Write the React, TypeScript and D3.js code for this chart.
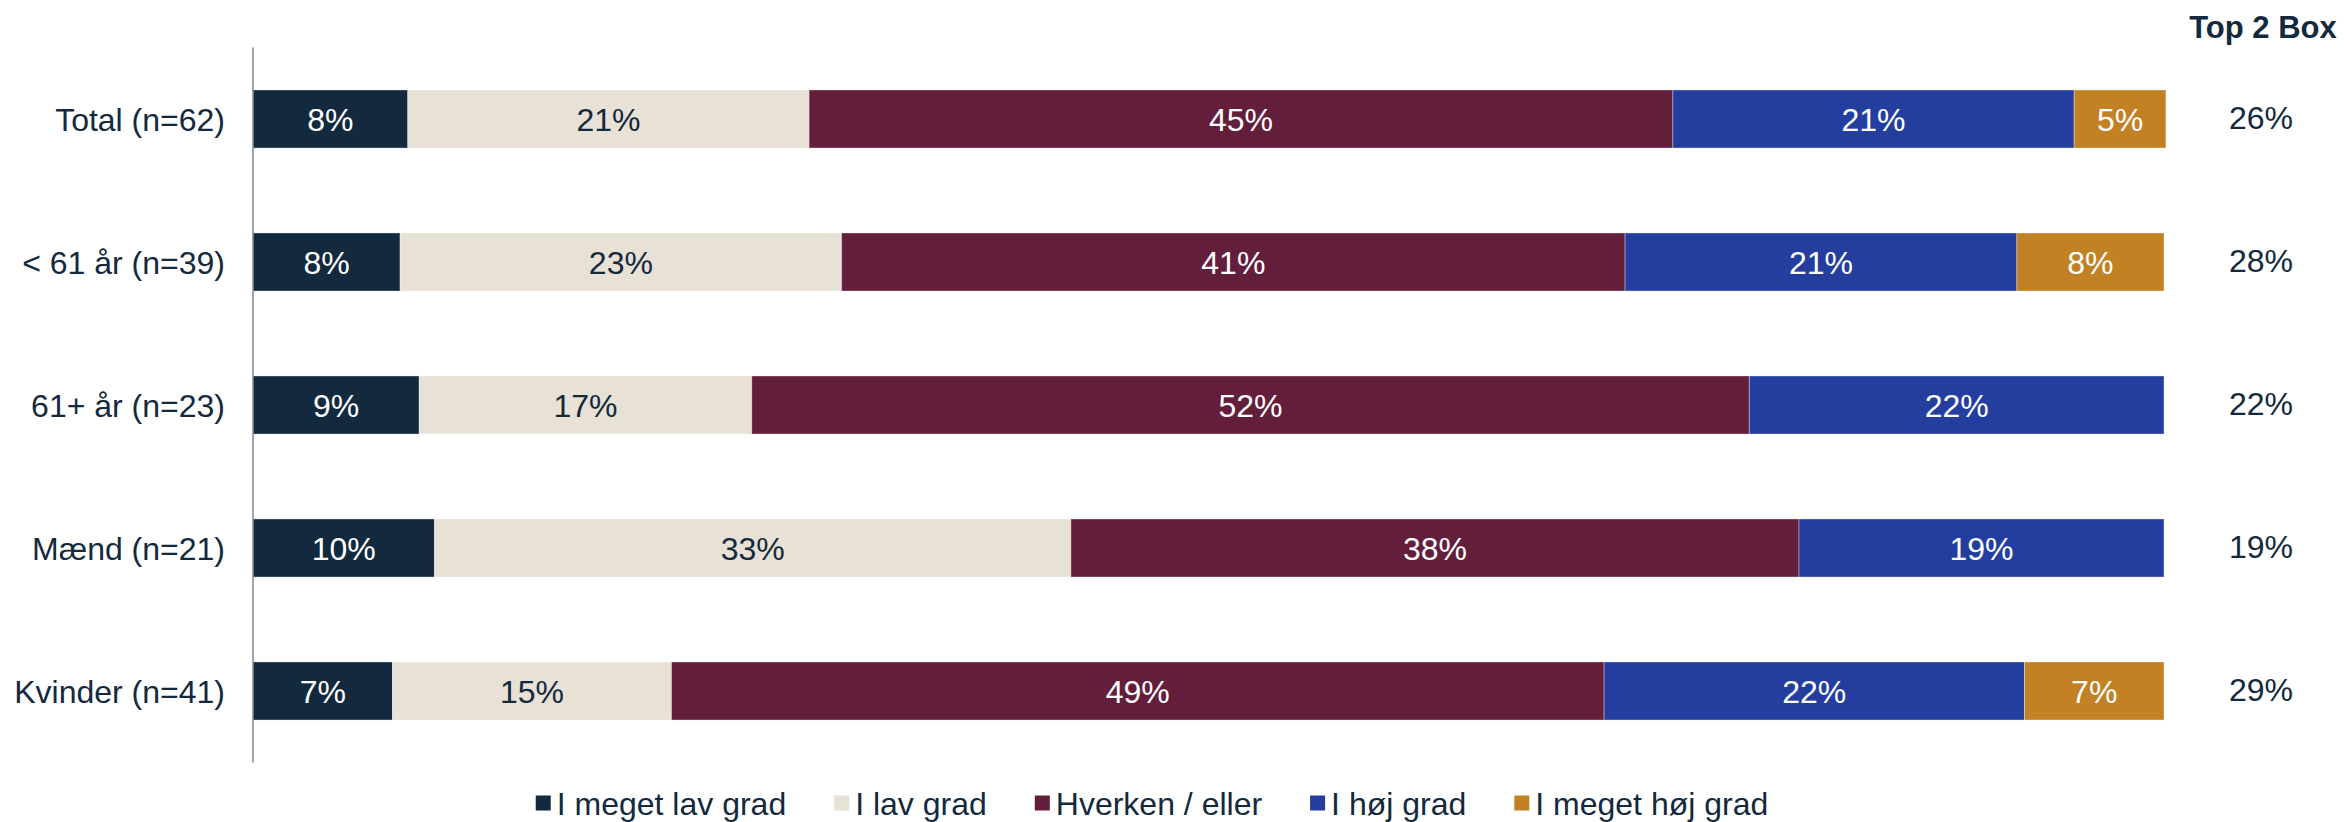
import React, { useEffect, useRef } from "react";
import * as d3 from "d3";

const categories = ["Total (n=62)", "< 61 år (n=39)", "61+ år (n=23)", "Mænd (n=21)", "Kvinder (n=41)"];
const seriesNames = ["I meget lav grad", "I lav grad", "Hverken / eller", "I høj grad", "I meget høj grad"];
const meget_lav = [8.1, 7.7, 8.7, 9.5, 7.3];
const lav = [21.0, 23.1, 17.4, 33.3, 14.6];
const hverken = [45.2, 41.0, 52.2, 38.1, 48.8];
const hoj = [21.0, 20.5, 21.7, 19.1, 22.0];
const meget_hoj = [4.8, 7.7, 0, 0, 7.3];
const top2 = [26, 28, 22, 19, 29];

const colors = ["#13293d", "#e8e1d5", "#631e3b", "#243ea0", "#c28123"];
const textColors = ["#ffffff", "#13293d", "#ffffff", "#ffffff", "#ffffff"];
const FONT = "'Liberation Sans', Arial, sans-serif";
const ink = "#13293d";

function StackedChart() {
  const svgRef = useRef(null);

  useEffect(() => {
    const svg = d3.select(svgRef.current);
    svg.selectAll("*").remove();

    const series = [meget_lav, lav, hverken, hoj, meget_hoj];
    const rows = categories.map((c, i) => {
      const r: any = { cat: c };
      seriesNames.forEach((s, j) => (r[s] = series[j][i]));
      return r;
    });
    const stack = d3.stack().keys(seriesNames)(rows);

    const x = d3.scaleLinear().domain([0, 100]).range([253, 2164]);
    const y = d3
      .scaleBand()
      .domain(categories)
      .range([47.5, 762.5])
      .paddingInner(0.594)
      .paddingOuter(0.297);

    const layers = svg
      .append("g")
      .selectAll("g")
      .data(stack)
      .enter()
      .append("g")
      .attr("fill", (d, i) => colors[i]);

    layers
      .selectAll("rect")
      .data((d) => d)
      .enter()
      .append("rect")
      .attr("x", (d) => x(d[0]))
      .attr("y", (d) => y(d.data.cat))
      .attr("width", (d) => Math.max(0, x(d[1]) - x(d[0])))
      .attr("height", y.bandwidth())
      .attr("stroke", "rgba(255,255,255,0.35)")
      .attr("stroke-width", 1);

    stack.forEach((layer, i) => {
      svg
        .append("g")
        .selectAll("text")
        .data(layer.filter((d) => d[1] - d[0] > 0))
        .enter()
        .append("text")
        .attr("x", (d) => (x(d[0]) + x(d[1])) / 2)
        .attr("y", (d) => y(d.data.cat) + y.bandwidth() / 2)
        .attr("dy", "0.36em")
        .attr("text-anchor", "middle")
        .attr("font-family", FONT)
        .attr("font-size", 32)
        .attr("fill", textColors[i])
        .text((d) => `${Math.round(d[1] - d[0])}%`);
    });

    // axis line
    svg
      .append("line")
      .attr("x1", 253)
      .attr("x2", 253)
      .attr("y1", 47.5)
      .attr("y2", 762.5)
      .attr("stroke", "#7f8790")
      .attr("stroke-width", 1.5);

    // category labels
    svg
      .append("g")
      .selectAll("text")
      .data(categories)
      .enter()
      .append("text")
      .attr("x", 225)
      .attr("y", (d) => y(d) + y.bandwidth() / 2)
      .attr("dy", "0.36em")
      .attr("text-anchor", "end")
      .attr("font-family", FONT)
      .attr("font-size", 32)
      .attr("fill", ink)
      .text((d) => d);

    // Top 2 Box
    svg
      .append("text")
      .attr("x", 2263)
      .attr("y", 38)
      .attr("text-anchor", "middle")
      .attr("font-family", FONT)
      .attr("font-weight", "bold")
      .attr("font-size", 31)
      .attr("fill", ink)
      .text("Top 2 Box");

    svg
      .append("g")
      .selectAll("text")
      .data(categories)
      .enter()
      .append("text")
      .attr("x", 2261)
      .attr("y", (d) => y(d) + y.bandwidth() / 2 - 2)
      .attr("dy", "0.36em")
      .attr("text-anchor", "middle")
      .attr("font-family", FONT)
      .attr("font-size", 32)
      .attr("fill", ink)
      .text((d, i) => `${top2[i]}%`);

    // legend
    const legend = svg.append("g");
    let cx = 0;
    seriesNames.forEach((name, i) => {
      const g = legend.append("g");
      g.append("rect")
        .attr("x", cx)
        .attr("y", -7.5)
        .attr("width", 15)
        .attr("height", 15)
        .attr("fill", colors[i]);
      const t = g
        .append("text")
        .attr("x", cx + 21)
        .attr("y", 0)
        .attr("dy", "0.36em")
        .attr("font-family", FONT)
        .attr("font-size", 32)
        .attr("fill", ink)
        .text(name);
      const w = (t.node() as any).getComputedTextLength();
      cx += 21 + w + 48;
    });
    const total = cx - 48;
    legend.attr("transform", `translate(${1152 - total / 2},803)`);
  }, []);

  return (
    <svg
      ref={svgRef}
      width={2346}
      height={822}
      style={{ position: "absolute", left: 0, top: 0, background: "#fff" }}
    ></svg>
  );
}

export default function App() {
  return <StackedChart />;
}
